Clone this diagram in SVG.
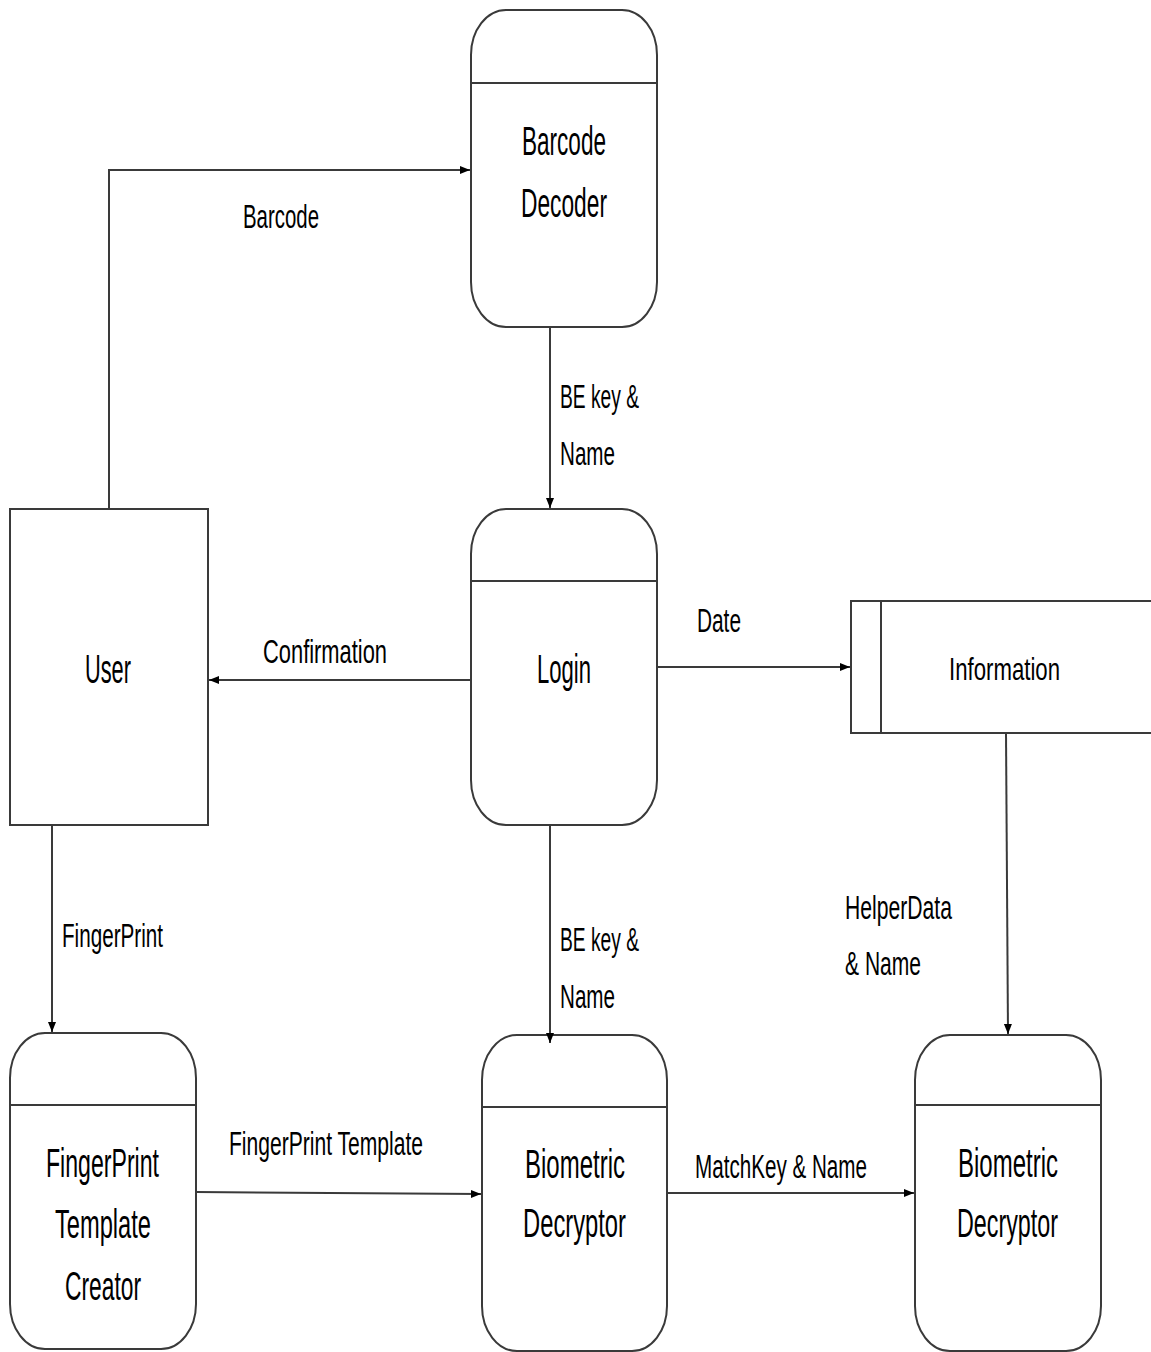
<svg xmlns="http://www.w3.org/2000/svg" width="1151" height="1352" viewBox="0 0 1151 1352">
<style>
.shape{fill:#ffffff;stroke:#3a3a3a;stroke-width:2}
.div{stroke:#3a3a3a;stroke-width:2}
.conn{fill:none;stroke:#3a3a3a;stroke-width:2}
.nt{font-family:"Liberation Sans",Arial,sans-serif;font-size:41px;fill:#000}
.lt{font-family:"Liberation Sans",Arial,sans-serif;font-size:33px;fill:#000}
</style>
<defs>
<marker id="arr" viewBox="0 0 10 10" refX="10" refY="5" markerWidth="10" markerHeight="10" markerUnits="userSpaceOnUse" orient="auto">
<path d="M0,1 L10,5 L0,9 Z" fill="#000"/>
</marker>
</defs>
<rect width="1151" height="1352" fill="#fff"/>

<g id="barcode-decoder">
<path class="shape" d="M506,10 H622 A35 45 0 0 1 657,55 V282 A35 45 0 0 1 622,327 H506 A35 45 0 0 1 471,282 V55 A35 45 0 0 1 506,10 Z"/>
<line class="div" x1="471" y1="83" x2="657" y2="83"/>
<text class="nt" x="522" y="155" textLength="84" lengthAdjust="spacingAndGlyphs">Barcode</text>
<text class="nt" x="521" y="217" textLength="86" lengthAdjust="spacingAndGlyphs">Decoder</text>
</g>

<g id="login">
<path class="shape" d="M506,509 H622 A35 45 0 0 1 657,554 V780 A35 45 0 0 1 622,825 H506 A35 45 0 0 1 471,780 V554 A35 45 0 0 1 506,509 Z"/>
<line class="div" x1="471" y1="581" x2="657" y2="581"/>
<text class="nt" x="537" y="683" textLength="54" lengthAdjust="spacingAndGlyphs">Login</text>
</g>

<g id="user">
<rect class="shape" x="10" y="509" width="198" height="316"/>
<text class="nt" x="85" y="683" textLength="46" lengthAdjust="spacingAndGlyphs">User</text>
</g>

<g id="information">
<rect x="851" y="601" width="300" height="132" fill="#fff"/>
<polyline class="conn" points="1151,601 851,601 851,733 1151,733"/>
<line class="div" x1="881" y1="601" x2="881" y2="733"/>
<text class="nt" x="949" y="680" style="font-size:32px" textLength="111" lengthAdjust="spacingAndGlyphs">Information</text>
</g>

<g id="fingerprint-template-creator">
<path class="shape" d="M45,1033 H161 A35 45 0 0 1 196,1078 V1304 A35 45 0 0 1 161,1349 H45 A35 45 0 0 1 10,1304 V1078 A35 45 0 0 1 45,1033 Z"/>
<line class="div" x1="10" y1="1105" x2="196" y2="1105"/>
<text class="nt" x="46" y="1177" textLength="113" lengthAdjust="spacingAndGlyphs">FingerPrint</text>
<text class="nt" x="55" y="1238" textLength="96" lengthAdjust="spacingAndGlyphs">Template</text>
<text class="nt" x="65" y="1300" textLength="76" lengthAdjust="spacingAndGlyphs">Creator</text>
</g>

<g id="biometric-decryptor-1">
<path class="shape" d="M517,1035 H632 A35 45 0 0 1 667,1080 V1306 A35 45 0 0 1 632,1351 H517 A35 45 0 0 1 482,1306 V1080 A35 45 0 0 1 517,1035 Z"/>
<line class="div" x1="482" y1="1107" x2="667" y2="1107"/>
<text class="nt" x="525" y="1178" textLength="100" lengthAdjust="spacingAndGlyphs">Biometric</text>
<text class="nt" x="523" y="1237" textLength="103" lengthAdjust="spacingAndGlyphs">Decryptor</text>
</g>

<g id="biometric-decryptor-2">
<path class="shape" d="M950,1035 H1066 A35 45 0 0 1 1101,1080 V1306 A35 45 0 0 1 1066,1351 H950 A35 45 0 0 1 915,1306 V1080 A35 45 0 0 1 950,1035 Z"/>
<line class="div" x1="915" y1="1105" x2="1101" y2="1105"/>
<text class="nt" x="958" y="1177" textLength="100" lengthAdjust="spacingAndGlyphs">Biometric</text>
<text class="nt" x="957" y="1237" textLength="101" lengthAdjust="spacingAndGlyphs">Decryptor</text>
</g>

<g id="connectors">
<polyline class="conn" points="109,509 109,170 470,170" marker-end="url(#arr)"/>
<text class="lt" x="243" y="228" textLength="76" lengthAdjust="spacingAndGlyphs">Barcode</text>
<line class="conn" x1="550" y1="327" x2="550" y2="508" marker-end="url(#arr)"/>
<text class="lt" x="560" y="408" textLength="79" lengthAdjust="spacingAndGlyphs">BE key &amp;</text>
<text class="lt" x="560" y="465" textLength="55" lengthAdjust="spacingAndGlyphs">Name</text>
<line class="conn" x1="471" y1="680" x2="209" y2="680" marker-end="url(#arr)"/>
<text class="lt" x="263" y="663" textLength="124" lengthAdjust="spacingAndGlyphs">Confirmation</text>
<line class="conn" x1="657" y1="667" x2="850" y2="667" marker-end="url(#arr)"/>
<text class="lt" x="697" y="632" textLength="44" lengthAdjust="spacingAndGlyphs">Date</text>
<line class="conn" x1="1006" y1="733" x2="1008" y2="1034" marker-end="url(#arr)"/>
<text class="lt" x="845" y="919" textLength="107" lengthAdjust="spacingAndGlyphs">HelperData</text>
<text class="lt" x="845" y="975" textLength="76" lengthAdjust="spacingAndGlyphs">&amp; Name</text>
<line class="conn" x1="550" y1="825" x2="550" y2="1043" marker-end="url(#arr)"/>
<text class="lt" x="560" y="951" textLength="79" lengthAdjust="spacingAndGlyphs">BE key &amp;</text>
<text class="lt" x="560" y="1008" textLength="55" lengthAdjust="spacingAndGlyphs">Name</text>
<line class="conn" x1="52" y1="825" x2="52" y2="1032" marker-end="url(#arr)"/>
<text class="lt" x="62" y="947" textLength="101" lengthAdjust="spacingAndGlyphs">FingerPrint</text>
<line class="conn" x1="196" y1="1192" x2="481" y2="1194" marker-end="url(#arr)"/>
<text class="lt" x="229" y="1155" textLength="194" lengthAdjust="spacingAndGlyphs">FingerPrint Template</text>
<line class="conn" x1="667" y1="1193" x2="914" y2="1193" marker-end="url(#arr)"/>
<text class="lt" x="695" y="1178" textLength="172" lengthAdjust="spacingAndGlyphs">MatchKey &amp; Name</text>
</g>
</svg>
